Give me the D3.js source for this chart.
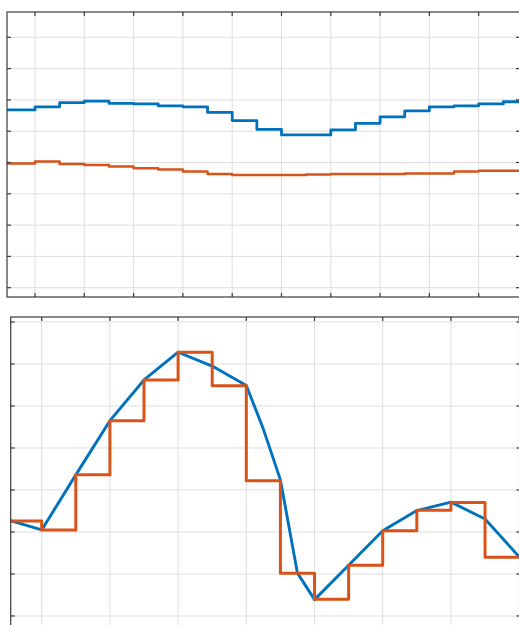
<!DOCTYPE html>
<html>
<head>
<meta charset="utf-8">
<script src="https://cdn.jsdelivr.net/npm/d3@7"></script>
<style>
  html, body { margin: 0; padding: 0; background: #fff; }
  svg { display: block; }
</style>
</head>
<body>
<div id="chart"></div>
<script>
// top panel: two held signals, switching every half grid unit
const topX = [-0.6, 0, 0.5, 1, 1.5, 2, 2.5, 3, 3.5, 4, 4.5, 5, 5.5, 6, 6.5, 7, 7.5, 8, 8.5, 9, 9.5, 9.9];
const topBlue = [5.68, 5.78, 5.91, 5.96, 5.89, 5.87, 5.81, 5.78, 5.60, 5.34, 5.06, 4.88, 4.88, 5.04, 5.25, 5.46, 5.65, 5.78, 5.81, 5.87, 5.94, 5.94];
const topOrange = [3.97, 4.03, 3.95, 3.92, 3.87, 3.82, 3.78, 3.71, 3.63, 3.60, 3.60, 3.60, 3.62, 3.63, 3.63, 3.63, 3.65, 3.65, 3.71, 3.74, 3.74, 3.74];
const topXTicks = [0, 1, 2, 3, 4, 5, 6, 7, 8, 9];
const topYTicks = [0, 1, 2, 3, 4, 5, 6, 7, 8];

// bottom panel: linear signal and its zero-order hold
const botBlueX = [-0.5, 0, 0.5, 1, 1.5, 2, 2.5, 3, 3.25, 3.5, 3.75, 4, 4.5, 5, 5.5, 6, 6.5, 7];
const botBlue = [2.29, 2.05, 3.36, 4.65, 5.62, 6.28, 5.95, 5.49, 4.45, 3.24, 1.02, 0.39, 1.21, 2.03, 2.51, 2.71, 2.31, 1.41];
const botOrangeX = [-0.5, 0, 0.5, 1, 1.5, 2, 2.5, 3, 3.5, 4, 4.5, 5, 5.5, 6, 6.5, 7.1];
const botOrange = [2.26, 2.05, 3.36, 4.65, 5.62, 6.28, 5.48, 3.22, 1.02, 0.40, 1.21, 2.03, 2.52, 2.70, 1.40, 1.40];
const botXTicks = [0, 1, 2, 3, 4, 5, 6, 7];
const botYTicks = [-1, 0, 1, 2, 3, 4, 5, 6, 7];

const BLUE = '#0072BD', ORANGE = '#D95319';
const W = 519, H = 625;

const svg = d3.select('#chart').append('svg').attr('width', W).attr('height', H);

function panel(id, box, xDom, yDom, xTicks, yTicks, series) {
  const x = d3.scaleLinear().domain(xDom).range([box.left, box.right]);
  const y = d3.scaleLinear().domain(yDom).range([box.bottom, box.top]);
  const g = svg.append('g');

  g.append('clipPath').attr('id', id).append('rect')
    .attr('x', box.left).attr('y', box.top)
    .attr('width', box.right - box.left).attr('height', box.bottom - box.top);

  // grid
  g.selectAll('.vg').data(xTicks).enter().append('line')
    .attr('x1', d => x(d)).attr('x2', d => x(d))
    .attr('y1', box.top).attr('y2', box.bottom)
    .attr('stroke', '#dedede').attr('stroke-width', 1);
  g.selectAll('.hg').data(yTicks).enter().append('line')
    .attr('x1', box.left).attr('x2', box.right)
    .attr('y1', d => y(d)).attr('y2', d => y(d))
    .attr('stroke', '#dedede').attr('stroke-width', 1);

  // lines
  const lines = g.append('g').attr('clip-path', `url(#${id})`);
  series.forEach(s => {
    const line = d3.line().x((d, i) => x(s.xs[i])).y(d => y(d)).curve(s.curve);
    lines.append('path').datum(s.ys)
      .attr('d', line).attr('fill', 'none')
      .attr('stroke', s.color).attr('stroke-width', s.width)
      .attr('stroke-linejoin', 'round');
  });

  // box and inward ticks
  const tl = 4;
  const axes = g.append('g').attr('stroke', '#3a3a3a').attr('stroke-width', 1.2);
  axes.append('rect')
    .attr('x', box.left).attr('y', box.top)
    .attr('width', box.right - box.left).attr('height', box.bottom - box.top)
    .attr('fill', 'none');
  xTicks.forEach(t => {
    axes.append('line').attr('x1', x(t)).attr('x2', x(t)).attr('y1', box.top).attr('y2', box.top + tl);
    axes.append('line').attr('x1', x(t)).attr('x2', x(t)).attr('y1', box.bottom).attr('y2', box.bottom - tl);
  });
  yTicks.forEach(t => {
    axes.append('line').attr('x1', box.left).attr('x2', box.left + tl).attr('y1', y(t)).attr('y2', y(t));
    axes.append('line').attr('x1', box.right).attr('x2', box.right - tl).attr('y1', y(t)).attr('y2', y(t));
  });
}

panel('clipTop', { left: 7, right: 520, top: 12, bottom: 297 },
  [-0.568, 9.838], [-0.297, 8.808], topXTicks, topYTicks, [
    { xs: topX, ys: topBlue, color: BLUE, width: 2.8, curve: d3.curveStepAfter },
    { xs: topX, ys: topOrange, color: ORANGE, width: 2.5, curve: d3.curveStepAfter }
  ]);

panel('clipBot', { left: 10.7, right: 520.5, top: 317, bottom: 660 },
  [-0.4545, 7.02], [-1.048, 7.119], botXTicks, botYTicks, [
    { xs: botBlueX, ys: botBlue, color: BLUE, width: 2.9, curve: d3.curveLinear },
    { xs: botOrangeX, ys: botOrange, color: ORANGE, width: 3, curve: d3.curveStepAfter }
  ]);
</script>
</body>
</html>
